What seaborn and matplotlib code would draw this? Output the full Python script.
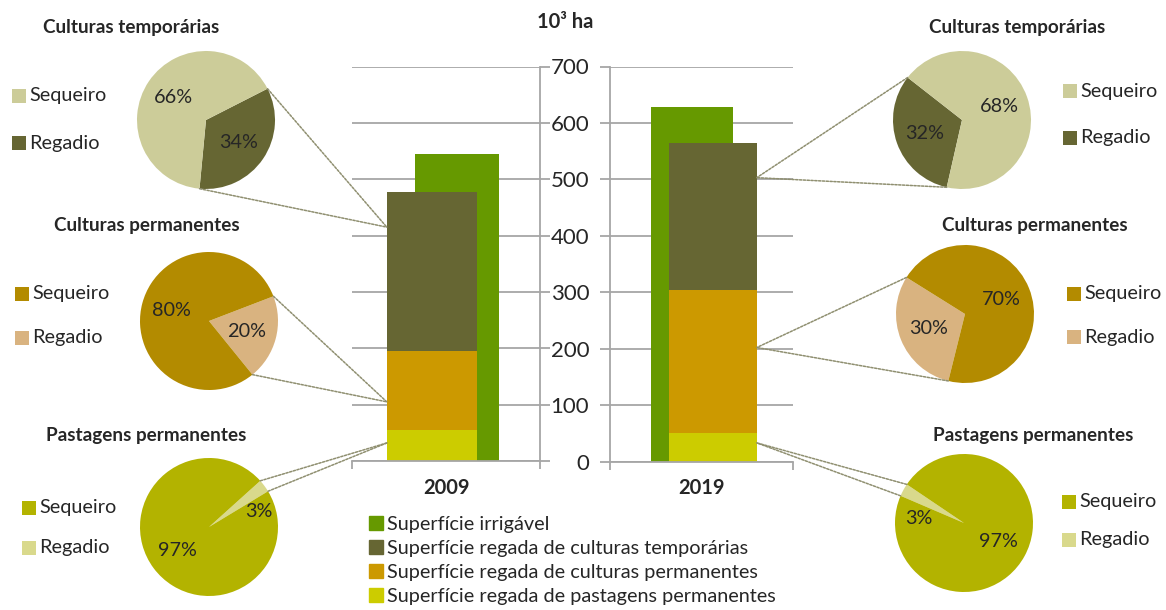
import matplotlib
matplotlib.use("Agg")
import numpy as np
import matplotlib.pyplot as plt
from matplotlib.patches import ConnectionPatch, Rectangle
import seaborn as sns

# ---- data ----
years = ["2009", "2019"]
irrigavel = [544, 628]
temporarias = [282, 261]
permanentes = [140, 253]
pastagens = [55, 51]
series_names = ["Superfície irrigável",
                "Superfície regada de culturas temporárias",
                "Superfície regada de culturas permanentes",
                "Superfície regada de pastagens permanentes"]

pie_titles = ["Culturas temporárias", "Culturas permanentes", "Pastagens permanentes"]
pie_labels = ["Sequeiro", "Regadio"]
sequeiro_2009 = [66, 80, 97]
regadio_2009 = [34, 20, 3]
sequeiro_2019 = [68, 70, 97]
regadio_2019 = [32, 30, 3]

# height on the bar where the connector lines end (10^3 ha)
anchor_2009 = [415, 105, 32]
anchor_2019 = [503, 202, 33]

# ---- style ----
C_IRR, C_TEMP, C_PERM, C_PAST = "#669900", "#666633", "#cc9900", "#cccc00"
pie_colors = [("#cccc99", "#666633"), ("#b38b00", "#d9b380"), ("#b3b300", "#d9d98c")]
GRID = "#a6a6a6"
TXT = "#262626"
LINE = "#8f8f70"
FS = 14.3

W, H = 1166, 610
sns.set_theme(style="ticks")
plt.rcParams["font.family"] = ["Lato", "DejaVu Sans"]
plt.rcParams["text.color"] = TXT

fig = plt.figure(figsize=(W / 100, H / 100), dpi=100)


def px_axes(x0, y0, x1, y1):
    return fig.add_axes([x0 / W, 1 - y1 / H, (x1 - x0) / W, (y1 - y0) / H])


def fx(x):
    return x / W


def fy(y):
    return 1 - y / H


ax_l = px_axes(352, 66.5, 540, 461)
ax_r = px_axes(610, 66.5, 793, 461.5)
bar_axes = [ax_l, ax_r]
stack_x = [0.425, 0.562]
green_x = [0.558, 0.448]
stack_w, green_w = 0.48, 0.447

for i, ax in enumerate(bar_axes):
    sns.barplot(x=[green_x[i]], y=[irrigavel[i]], native_scale=True, width=green_w,
                color=C_IRR, saturation=1, errorbar=None, linewidth=0, ax=ax)
    bottom = 0
    for vals, c in [(pastagens, C_PAST), (permanentes, C_PERM), (temporarias, C_TEMP)]:
        sns.barplot(x=[stack_x[i]], y=[vals[i]], bottom=bottom, native_scale=True,
                    width=stack_w, color=c, saturation=1, errorbar=None, linewidth=0, ax=ax)
        bottom += vals[i]

    ax.set_xlim(0, 1)
    ax.set_ylim(0, 700)
    ax.set_xlabel("")
    ax.set_ylabel("")
    ax.set_yticks(range(0, 701, 100))
    ax.yaxis.grid(True, color=GRID, lw=1.3)
    ax.set_axisbelow(True)
    ax.set_xticks([0.5])
    ax.set_xticklabels([years[i]], fontweight="bold", fontsize=14.5, color=TXT)
    ax.tick_params(axis="x", which="major", length=0, pad=12)
    ax.set_xticks([0, 1], minor=True)
    ax.tick_params(axis="x", which="minor", length=6, width=1.3, color=GRID, direction="out")
    for s in ax.spines.values():
        s.set_color(GRID)
        s.set_linewidth(1.3)
    ax.spines["top"].set_visible(False)

ax_l.spines["left"].set_visible(False)
ax_l.yaxis.tick_right()
ax_l.tick_params(axis="y", length=7, width=1.3, color=GRID, labelright=False, right=True, left=False)
ax_r.spines["right"].set_visible(False)
ax_r.tick_params(axis="y", length=7, width=1.3, color=GRID, left=True, labelsize=16,
                 labelcolor=TXT, pad=8)

fig.text(fx(565), fy(22), "10³ ha", fontweight="bold", fontsize=14.5, ha="center", va="center")

# ---- bottom legend ----
handles = [Rectangle((0, 0), 1, 1, color=c) for c in [C_IRR, C_TEMP, C_PERM, C_PAST]]
fig.legend(handles, series_names, loc="upper left", bbox_to_anchor=(fx(369), fy(516)),
           frameon=False, fontsize=FS, handlelength=0.7, handleheight=0.7,
           handletextpad=0.2, labelspacing=0.35, borderaxespad=0, borderpad=0)

# ---- pies ----
pie_layout = {
    0: dict(centers=[(206, 120), (209, 321), (209, 527)], start=[27, 21, 42], ccw=False,
            titles=[(131, 27), (147, 225), (146, 436)],
            sq_x=[12, 15, 22], rows=[(96, 143), (294, 338), (508, 548)],
            small_xy=(0.72, 0.22)),
    1: dict(centers=[(962, 120), (965, 314), (964, 523)], start=[142, 148, 146], ccw=True,
            titles=[(1017, 27), (1035, 225), (1033, 436)],
            sq_x=[1063, 1067, 1062], rows=[(91, 138), (294, 337), (502, 540)],
            small_xy=(-0.66, 0.06)),
}
seq_by_year = [sequeiro_2009, sequeiro_2019]
reg_by_year = [regadio_2009, regadio_2019]
anchors = [anchor_2009, anchor_2019]
R = 69

for yi in range(2):
    lay = pie_layout[yi]
    for k in range(3):
        cx, cy = lay["centers"][k]
        pax = px_axes(cx - R, cy - R, cx + R, cy + R)
        seq, reg = seq_by_year[yi][k], reg_by_year[yi][k]
        c_seq, c_reg = pie_colors[k]
        wedges, _, autotexts = pax.pie([reg, seq], colors=[c_reg, c_seq], startangle=lay["start"][k],
                                       counterclock=lay["ccw"], autopct=lambda p: f"{p:.0f}%",
                                       pctdistance=0.57, wedgeprops=dict(linewidth=0),
                                       textprops=dict(fontsize=FS, color=TXT))
        if reg < 5:
            autotexts[0].set_position(lay["small_xy"])
        pax.set_xlim(-1, 1)
        pax.set_ylim(-1, 1)
        pax.set_aspect("auto")
        pax.axis("off")

        tx, ty = lay["titles"][k]
        fig.text(fx(tx), fy(ty), pie_titles[k], fontweight="bold", fontsize=13.6,
                 ha="center", va="center")
        for lbl, col, ry in zip(pie_labels, [c_seq, c_reg], lay["rows"][k]):
            sx = lay["sq_x"][k]
            fig.add_artist(Rectangle((fx(sx), fy(ry + 7)), 14 / W, 14 / H,
                                     transform=fig.transFigure, color=col, lw=0))
            fig.text(fx(sx + 17), fy(ry), lbl, fontsize=FS, ha="left", va="center")

        # connector lines from the regadio wedge edges to the stacked bar
        bx = stack_x[yi] - stack_w / 2 if yi == 0 else stack_x[yi] + stack_w / 2
        for ang in (wedges[0].theta1, wedges[0].theta2):
            a = np.deg2rad(ang)
            con = ConnectionPatch(xyA=(np.cos(a), np.sin(a)), coordsA=pax.transData,
                                  xyB=(bx, anchors[yi][k]), coordsB=bar_axes[yi].transData,
                                  color=LINE, lw=1.1, linestyle=(0, (1.5, 1)))
            fig.add_artist(con)

fig.savefig("out.png", dpi=100)
